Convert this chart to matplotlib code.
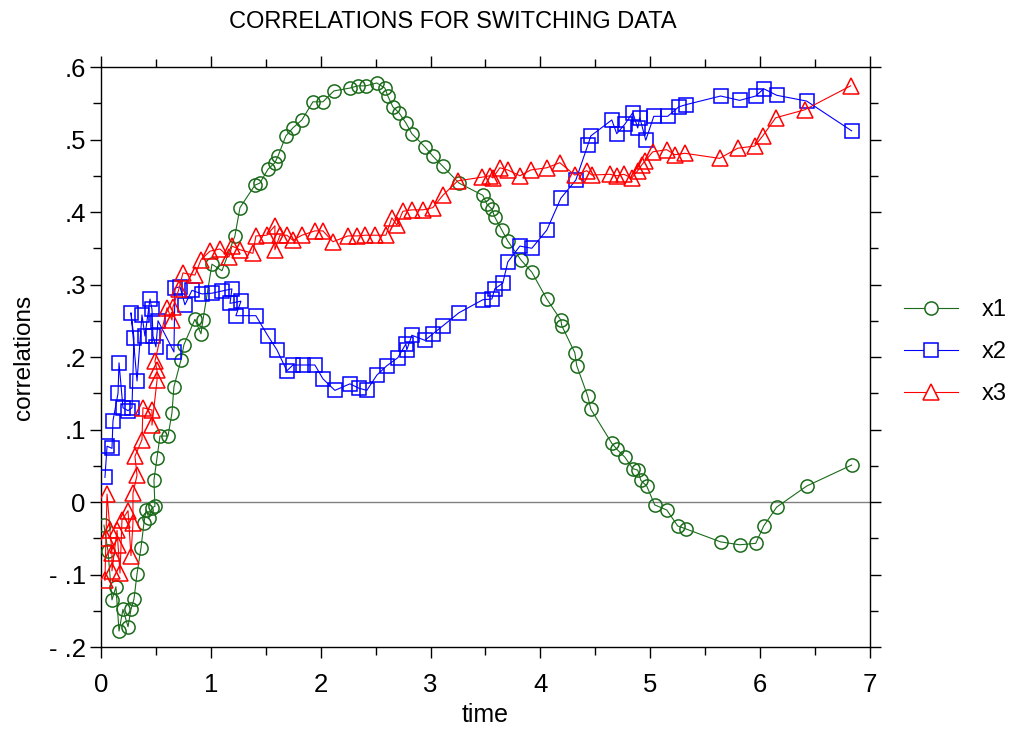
import matplotlib
matplotlib.use('Agg')
import matplotlib.pyplot as plt
from matplotlib.ticker import MultipleLocator, FixedLocator

plt.rcParams['font.family'] = ['Liberation Sans', 'DejaVu Sans']

# x1 (green circles)
x1_time = [0.027, 0.064, 0.100, 0.136, 0.164, 0.200, 0.246, 0.273, 0.300, 0.328,
           0.364, 0.391, 0.410, 0.437, 0.464, 0.491, 0.482, 0.510, 0.537, 0.610,
           0.646, 0.664, 0.728, 0.755, 0.855, 0.910, 0.928, 1.010, 1.101, 1.219,
           1.265, 1.401, 1.447, 1.520, 1.583, 1.611, 1.683, 1.747, 1.829, 1.929,
           2.020, 2.120, 2.266, 2.338, 2.411, 2.511, 2.584, 2.611, 2.657, 2.712,
           2.775, 2.830, 2.948, 3.021, 3.112, 3.258, 3.476, 3.512, 3.558, 3.585,
           3.649, 3.703, 3.822, 3.922, 4.058, 4.186, 4.195, 4.313, 4.331, 4.431,
           4.459, 4.650, 4.695, 4.768, 4.841, 4.886, 4.914, 4.968, 5.041, 5.150,
           5.250, 5.323, 5.641, 5.814, 5.960, 6.033, 6.151, 6.424, 6.833]
x1_corr = [-0.032, -0.068, -0.135, -0.117, -0.178, -0.148, -0.172, -0.148, -0.134, -0.099,
           -0.063, -0.029, -0.011, -0.022, -0.008, -0.006, 0.030, 0.061, 0.091, 0.091,
           0.123, 0.159, 0.196, 0.217, 0.252, 0.232, 0.251, 0.328, 0.319, 0.367,
           0.406, 0.437, 0.440, 0.459, 0.468, 0.477, 0.505, 0.516, 0.527, 0.552,
           0.552, 0.567, 0.571, 0.574, 0.574, 0.578, 0.571, 0.560, 0.545, 0.537,
           0.523, 0.508, 0.490, 0.477, 0.463, 0.440, 0.423, 0.411, 0.404, 0.393,
           0.375, 0.360, 0.334, 0.317, 0.280, 0.251, 0.243, 0.206, 0.188, 0.146,
           0.128, 0.081, 0.073, 0.062, 0.046, 0.044, 0.030, 0.022, -0.004, -0.011,
           -0.033, -0.037, -0.055, -0.059, -0.057, -0.033, -0.007, 0.022, 0.051]

# x2 (blue squares)
x2_time = [0.036, 0.055, 0.100, 0.109, 0.155, 0.164, 0.200, 0.246, 0.282, 0.300,
           0.273, 0.328, 0.373, 0.400, 0.446, 0.464, 0.473, 0.500, 0.519, 0.664,
           0.673, 0.719, 0.764, 0.828, 0.919, 1.010, 1.101, 1.192, 1.174, 1.274,
           1.228, 1.410, 1.520, 1.601, 1.692, 1.747, 1.838, 1.947, 2.020, 2.129,
           2.266, 2.348, 2.420, 2.511, 2.602, 2.702, 2.775, 2.784, 2.830, 2.948,
           3.021, 3.112, 3.258, 3.476, 3.558, 3.585, 3.658, 3.703, 3.813, 3.922,
           4.058, 4.186, 4.322, 4.431, 4.459, 4.650, 4.695, 4.768, 4.841, 4.886,
           4.905, 4.959, 5.032, 5.159, 5.259, 5.323, 5.641, 5.814, 5.960, 6.033,
           6.151, 6.424, 6.833]
x2_corr = [0.034, 0.077, 0.074, 0.112, 0.150, 0.192, 0.130, 0.126, 0.130, 0.226,
           0.261, 0.167, 0.258, 0.229, 0.280, 0.266, 0.229, 0.214, 0.250, 0.207,
           0.295, 0.297, 0.272, 0.292, 0.287, 0.288, 0.291, 0.294, 0.274, 0.277,
           0.257, 0.257, 0.229, 0.210, 0.181, 0.189, 0.189, 0.189, 0.170, 0.154,
           0.163, 0.157, 0.154, 0.175, 0.188, 0.199, 0.218, 0.210, 0.230, 0.223,
           0.232, 0.243, 0.261, 0.279, 0.280, 0.294, 0.302, 0.331, 0.353, 0.350,
           0.375, 0.419, 0.444, 0.492, 0.505, 0.527, 0.508, 0.521, 0.537, 0.516,
           0.530, 0.499, 0.532, 0.532, 0.545, 0.548, 0.560, 0.554, 0.560, 0.570,
           0.561, 0.553, 0.512]

# x3 (red triangles)
x3_time = [0.036, 0.045, 0.055, 0.082, 0.100, 0.100, 0.146, 0.155, 0.173, 0.191,
           0.246, 0.273, 0.291, 0.291, 0.328, 0.309, 0.373, 0.382, 0.464, 0.464,
           0.510, 0.510, 0.491, 0.601, 0.646, 0.655, 0.710, 0.746, 0.855, 0.910,
           0.992, 1.083, 1.165, 1.192, 1.265, 1.383, 1.410, 1.510, 1.583, 1.583,
           1.629, 1.692, 1.747, 1.829, 1.947, 2.020, 2.111, 2.247, 2.329, 2.402,
           2.493, 2.593, 2.648, 2.693, 2.748, 2.830, 2.930, 3.021, 3.112, 3.248,
           3.467, 3.540, 3.567, 3.631, 3.703, 3.813, 3.913, 4.058, 4.177, 4.313,
           4.422, 4.468, 4.632, 4.695, 4.759, 4.832, 4.886, 4.923, 4.950, 5.023,
           5.150, 5.223, 5.314, 5.632, 5.796, 5.951, 6.024, 6.142, 6.406, 6.824]
x3_corr = [-0.108, -0.050, 0.011, -0.039, -0.070, -0.095, -0.039, -0.059, -0.098, -0.025,
           -0.012, -0.074, -0.029, 0.012, 0.037, 0.063, 0.086, 0.130, 0.127, 0.106,
           0.168, 0.182, 0.194, 0.268, 0.251, 0.269, 0.294, 0.316, 0.313, 0.334,
           0.346, 0.349, 0.338, 0.353, 0.348, 0.343, 0.367, 0.368, 0.381, 0.348,
           0.368, 0.368, 0.361, 0.368, 0.374, 0.374, 0.359, 0.367, 0.367, 0.368,
           0.368, 0.368, 0.392, 0.382, 0.401, 0.403, 0.403, 0.406, 0.423, 0.443,
           0.448, 0.450, 0.447, 0.461, 0.458, 0.450, 0.458, 0.461, 0.468, 0.451,
           0.457, 0.451, 0.452, 0.450, 0.452, 0.447, 0.457, 0.465, 0.470, 0.483,
           0.486, 0.479, 0.481, 0.474, 0.488, 0.491, 0.505, 0.530, 0.541, 0.574]

y_ticks = [-0.2, -0.1, 0, 0.1, 0.2, 0.3, 0.4, 0.5, 0.6]
y_tick_labels = ['- .2', '- .1', '0', '.1', '.2', '.3', '.4', '.5', '.6']

fig = plt.figure(figsize=(10.13, 7.34), dpi=100)
ax = fig.add_axes([0.0997, 0.1185, 0.7591, 0.7902])

ax.axhline(0, color='#808080', lw=1.0, zorder=1)

series = [
    (x1_time, x1_corr, '#1a6b1a', 'o', 9.5, 'x1'),
    (x2_time, x2_corr, '#0000ff', 's', 10, 'x2'),
    (x3_time, x3_corr, '#ff0000', '^', 12, 'x3'),
]
for t, c, color, marker, ms, label in series:
    ax.plot(t, c, color=color, lw=0.8, marker=marker, markersize=ms,
            markerfacecolor='none', markeredgecolor=color, markeredgewidth=1.1,
            label=label, zorder=3)

ax.set_xlim(0, 7)
ax.set_ylim(-0.2, 0.6)
ax.xaxis.set_major_locator(MultipleLocator(1))
ax.xaxis.set_minor_locator(MultipleLocator(0.5))
ax.yaxis.set_major_locator(FixedLocator(y_ticks))
ax.yaxis.set_minor_locator(MultipleLocator(0.05))
ax.set_yticklabels(y_tick_labels)

ax.tick_params(which='both', direction='out', top=True, right=True,
               labeltop=False, labelright=False, width=1.0, labelsize=18.5)
ax.tick_params(which='major', length=8)
ax.tick_params(which='minor', length=6)
ax.tick_params(axis='x', which='major', pad=11)
ax.tick_params(axis='y', which='major', pad=3)
for sp in ax.spines.values():
    sp.set_linewidth(1.0)

ax.set_xlabel('time', fontsize=18, labelpad=4)
ax.set_ylabel('correlations', fontsize=17.5, labelpad=10)
fig.suptitle('CORRELATIONS FOR SWITCHING DATA', x=0.447, y=0.985, fontsize=17)

leg = ax.legend(loc='center left', bbox_to_anchor=(0.892, 0.52),
                bbox_transform=fig.transFigure, frameon=False, fontsize=17,
                handlelength=2.3, handletextpad=1.0, labelspacing=0.85,
                borderpad=0, borderaxespad=0)
for h in leg.legend_handles:
    h.set_markerfacecolor('white')

fig.savefig('out.png', dpi=100)
